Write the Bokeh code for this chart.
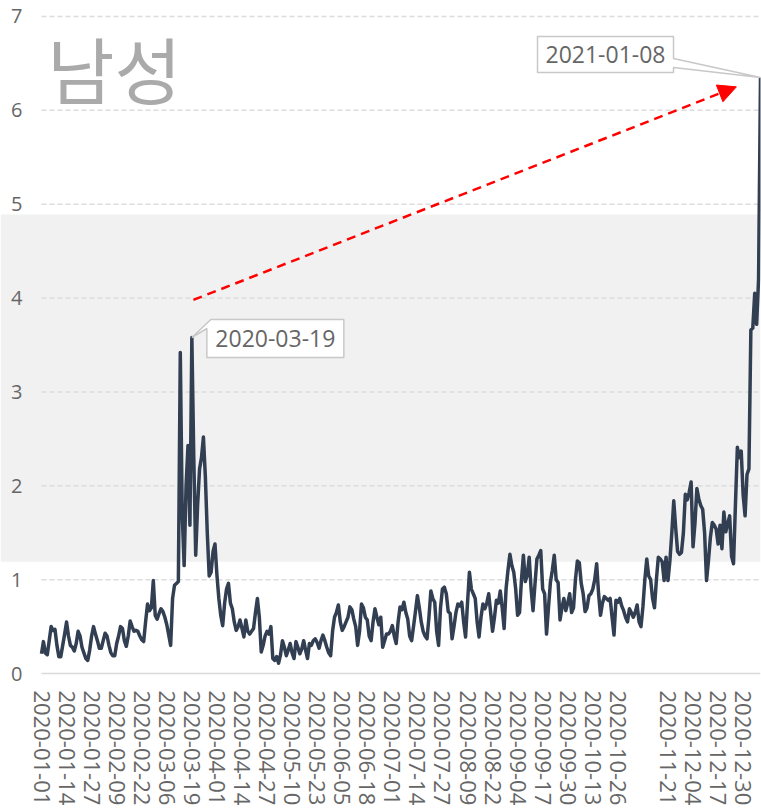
import pandas as pd
from bokeh.plotting import figure
from bokeh.models import FixedTicker, BoxAnnotation, Label, Arrow, NormalHead, Range1d
from bokeh.core.properties import value
from bokeh.embed import file_html
from bokeh.resources import INLINE

# ---------------- data ----------------
start_date = "2020-01-01"
jan_2020 = [0.21, 0.34, 0.22, 0.20, 0.35, 0.50, 0.46, 0.47, 0.30, 0.18,
            0.18, 0.30, 0.42, 0.55, 0.40, 0.30, 0.28, 0.24, 0.32, 0.45,
            0.40, 0.28, 0.22, 0.16, 0.14, 0.25, 0.40, 0.50, 0.42, 0.35, 0.27]
feb_2020 = [0.27, 0.35, 0.43, 0.40, 0.30, 0.22, 0.19, 0.19, 0.32,
            0.40, 0.50, 0.48, 0.35, 0.29, 0.40, 0.56, 0.50, 0.45, 0.46,
            0.45, 0.40, 0.36, 0.34, 0.55, 0.74, 0.67, 0.70, 0.99, 0.62]
mar_2020 = [0.58, 0.64, 0.69, 0.66, 0.60, 0.52, 0.41, 0.30, 0.80, 0.94,
            0.96, 0.98, 3.42, 1.70, 1.15, 2.00, 2.43, 1.58, 3.58, 2.30,
            1.26, 1.80, 2.18, 2.30, 2.52, 2.10, 1.50, 1.04, 1.08, 1.30, 1.38]
apr_2020 = [1.05, 0.80, 0.62, 0.51, 0.75, 0.90, 0.96, 0.75, 0.69,
            0.55, 0.46, 0.50, 0.57, 0.48, 0.39, 0.57, 0.45, 0.42, 0.45,
            0.48, 0.65, 0.80, 0.60, 0.23, 0.30, 0.40, 0.45, 0.42, 0.50, 0.16]
may_2020 = [0.14, 0.18, 0.11, 0.20, 0.35, 0.28, 0.19, 0.25, 0.32,
            0.22, 0.16, 0.34, 0.28, 0.21, 0.26, 0.35, 0.25, 0.16, 0.32,
            0.30, 0.35, 0.37, 0.33, 0.27, 0.35, 0.41, 0.35, 0.28, 0.22,
            0.19, 0.45]
jun_2020 = [0.60, 0.65, 0.73, 0.55, 0.46, 0.50, 0.55, 0.60,
            0.71, 0.68, 0.58, 0.50, 0.30, 0.45, 0.74, 0.70, 0.60, 0.57,
            0.40, 0.35, 0.55, 0.69, 0.60, 0.52, 0.60, 0.28, 0.35, 0.42,
            0.42, 0.45]
jul_2020 = [0.51, 0.40, 0.32, 0.55, 0.71, 0.68, 0.76, 0.65,
            0.58, 0.40, 0.35, 0.50, 0.66, 0.83, 0.70, 0.55, 0.45, 0.40,
            0.37, 0.60, 0.88, 0.80, 0.76, 0.45, 0.30, 0.70, 0.90, 0.92,
            0.85, 0.66, 0.64]
aug_2020 = [0.37, 0.50, 0.65, 0.74, 0.72, 0.76, 0.55,
            0.39, 0.75, 1.08, 0.90, 0.85, 0.80, 0.55, 0.39, 0.60, 0.74,
            0.69, 0.75, 0.85, 0.65, 0.45, 0.60, 0.78, 0.75, 0.88, 0.70,
            0.48, 0.90, 1.10, 1.27]
sep_2020 = [1.15, 1.08, 0.90, 0.62, 0.65, 1.00,
            1.26, 0.98, 1.05, 1.24, 0.90, 0.67, 0.95, 1.22, 1.26, 1.31,
            0.90, 0.85, 0.42, 0.70, 0.97, 1.10, 1.26, 1.00, 0.97, 0.57,
            0.70, 0.80, 0.67, 0.75]
oct_2020 = [0.85, 0.65, 0.70, 1.00, 1.20, 1.18,
            0.96, 0.85, 0.66, 0.70, 0.83, 0.85, 0.90, 1.00, 1.17, 0.85,
            0.62, 0.75, 0.82, 0.80, 0.78, 0.80, 0.60, 0.41, 0.78, 0.76,
            0.80, 0.72, 0.67, 0.60, 0.55]
nov_2020 = [0.69, 0.65, 0.60, 0.65, 0.73,
            0.55, 0.50, 0.71, 1.00, 1.22, 1.04, 1.00, 0.80, 0.70, 1.00,
            1.24, 1.22, 1.19, 0.99, 1.24, 0.99, 1.20, 1.50, 1.84, 1.55,
            1.30, 1.27, 1.29, 1.50, 1.91]
dec_2020 = [1.85, 1.93, 2.04, 1.35, 1.60,
            1.97, 1.86, 1.79, 1.75, 1.50, 0.99, 1.20, 1.45, 1.61, 1.58,
            1.54, 1.38, 1.58, 1.33, 1.72, 1.51, 1.60, 1.68, 1.25, 1.17,
            1.80, 2.41, 2.30, 2.37, 1.90, 1.68]
jan_2021 = [2.12, 2.18, 3.66, 3.68, 4.05, 3.72, 4.20, 6.35]

tick_labels = ["2020-01-01", "2020-01-14", "2020-01-27", "2020-02-09", "2020-02-22",
               "2020-03-06", "2020-03-19", "2020-04-01", "2020-04-14", "2020-04-27",
               "2020-05-10", "2020-05-23", "2020-06-05", "2020-06-18", "2020-07-01",
               "2020-07-14", "2020-07-27", "2020-08-09", "2020-08-22", "2020-09-04",
               "2020-09-17", "2020-09-30", "2020-10-13", "2020-10-26", "2020-11-21",
               "2020-12-04", "2020-12-17", "2020-12-30"]
y_ticks = [0, 1, 2, 3, 4, 5, 6, 7]
y_tick_labels = ["0", "1", "2", "3", "4", "5", "6", "7"]
band_range = (1.19, 4.89)
title_text = "남성"
callout_dates = ["2020-03-19", "2021-01-08"]
arrow_x = [78.8, 360.5]
arrow_y = [3.98, 6.25]

values = (jan_2020 + feb_2020 + mar_2020 + apr_2020 + may_2020 + jun_2020 +
          jul_2020 + aug_2020 + sep_2020 + oct_2020 + nov_2020 + dec_2020 + jan_2021)
dates = pd.date_range(start_date, periods=len(values), freq="D").strftime("%Y-%m-%d").tolist()
idx = list(range(len(values)))

# ---------------- geometry ----------------
W, H = 761, 808
PLOT_L, PLOT_T, PLOT_W, PLOT_H = 41, 16, 719, 659      # the data area in page pixels
BOTTOM_BORDER = 121
X0, X1 = 0, len(values) - 1
Y0, Y1 = y_ticks[0], y_ticks[-1]
px_x = PLOT_W / (X1 - X0)
px_y = PLOT_H / (Y1 - Y0)
frame_h = H - BOTTOM_BORDER
xr = Range1d(X0 - PLOT_L / px_x, X1)
yr = Range1d(Y0 - (frame_h - PLOT_T - PLOT_H) / px_y, Y1 + PLOT_T / px_y)

p = figure(width=W, height=H, output_backend="svg", toolbar_location=None,
           x_range=xr, y_range=yr,
           min_border_left=0, min_border_right=1, min_border_top=0,
           min_border_bottom=BOTTOM_BORDER)
p.outline_line_color = None
p.background_fill_color = "white"
p.border_fill_color = "white"

band = BoxAnnotation(bottom=band_range[0], top=band_range[1],
                     fill_color="#f1f1f1", fill_alpha=1.0, line_color=None, level="image")
p.add_layout(band)

p.xgrid.grid_line_color = None
p.ygrid.grid_line_color = None
p.yaxis.visible = False

# horizontal grid lines (dashed) and the baseline (solid)
grid_y = y_ticks[1:]
p.segment(x0=[X0] * len(grid_y), y0=grid_y, x1=[X1] * len(grid_y), y1=grid_y,
          line_color="#dcdcdc", line_width=1.5, line_dash="5 3")
p.segment(x0=[X0], y0=[Y0], x1=[X1], y1=[Y0], line_color="#d9d9d9", line_width=1.5)

# y tick labels
p.text(x=[X0 - 19 / px_x] * len(y_ticks), y=y_ticks, text=y_tick_labels,
       text_align="right", text_baseline="middle", text_font=value("Open Sans"),
       text_font_size="20px", text_color="#666666")

tick_idx = [dates.index(t) for t in tick_labels]
p.xaxis.ticker = FixedTicker(ticks=tick_idx)
p.xaxis.major_label_overrides = {i: t for i, t in zip(tick_idx, tick_labels)}
p.xaxis.major_label_orientation = "vertical"
p.xaxis.axis_line_color = None
p.xaxis.major_tick_line_color = None
p.xaxis.minor_tick_line_color = None
p.xaxis.major_tick_out = 0
p.xaxis.major_tick_in = 0
p.xaxis.major_label_standoff = 5
p.xaxis.major_label_text_font = "Open Sans"
p.xaxis.major_label_text_font_size = "22px"
p.xaxis.major_label_text_color = "#666666"

p.line(idx, values, line_color="#323f52", line_width=3.5, line_join="round")

# title
p.add_layout(Label(x=3.0, y=6.46, text=title_text, text_font="Noto Sans CJK KR",
                   text_font_size="73px", text_color="#aaaaaa",
                   text_align="left", text_baseline="middle"))

# callouts (pixel offsets from the anchor point; dy positive = downward)
callout_shapes = [
    [(0, 0), (19, -18), (152, -18), (152, 20), (15, 20), (15, -9)],
    [(0, 0), (-87, -10), (-87, -5), (-223, -5), (-223, -41), (-87, -41), (-87, -19)],
]
callout_text_off = [(83.5, 1), (-155, -23)]
for d, shape, toff in zip(callout_dates, callout_shapes, callout_text_off):
    i = dates.index(d)
    ax, ay = i, values[i]
    xs = [ax + dx / px_x for dx, dy in shape]
    ys = [ay - dy / px_y for dx, dy in shape]
    p.patch(xs, ys, fill_color="white", line_color="#c8c8c8", line_width=1.5)
    p.add_layout(Label(x=ax + toff[0] / px_x, y=ay - toff[1] / px_y, text=d,
                       text_font="Open Sans", text_font_size="23px", text_color="#666666",
                       text_align="center", text_baseline="middle"))

p.add_layout(Arrow(end=NormalHead(size=18, fill_color="red", line_color="red"),
                   x_start=arrow_x[0], y_start=arrow_y[0], x_end=arrow_x[1], y_end=arrow_y[1],
                   line_color="red", line_width=2.5, line_dash="9 6"))

open("out.html", "w").write(file_html(p, INLINE))
